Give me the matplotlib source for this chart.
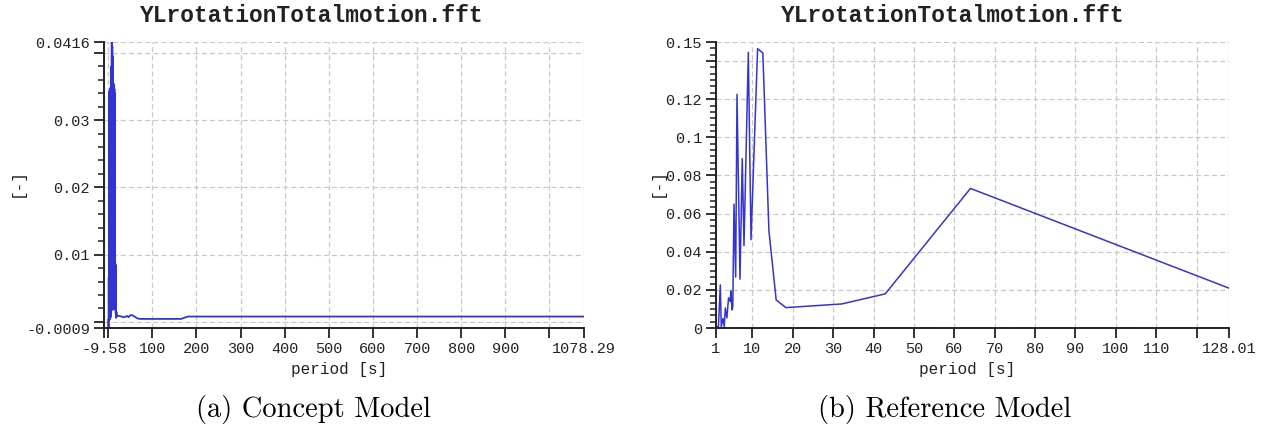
import matplotlib
matplotlib.use("Agg")
import matplotlib.pyplot as plt
from matplotlib.ticker import MultipleLocator

plt.rcParams.update({
    "font.family": ["Liberation Mono", "DejaVu Sans Mono"],
})

INK = "#222222"
LINE = "#3434d2"
GRID = "#c8c8c8"

# ---- (a) concept model: FFT amplitude vs period ----
left_period = [
    0.3, 0.8, 1.2, 1.6, 2.0, 2.3, 2.6, 2.9, 3.2, 3.5, 3.8, 4.1, 4.4, 4.7,
    5.0, 5.3, 5.6, 5.9, 6.2, 6.5, 6.8, 7.1, 7.4, 7.7, 8.0, 8.3, 8.6, 8.9,
    9.2, 9.5, 9.8, 10.1, 10.4, 10.7, 11.0, 11.3, 11.6, 11.9, 12.2, 12.5,
    12.8, 13.1, 13.4, 13.7, 14.0, 14.3, 14.6, 14.9, 15.2, 15.5, 15.8,
    16.2, 16.6, 17.0, 17.5, 18.0, 18.6, 19.5, 21.0, 25.0, 30.0,
    35.0, 40.0, 43.0, 46.0, 50.0, 54.0, 57.0, 62.0, 67.0, 73.0, 80.0,
    90.0, 108.0, 135.0, 154.0, 165.0, 180.0, 216.0, 270.0, 359.0, 539.0,
    1078.29,
]
left_value = [
    0.0003, -0.0009, 0.0066, 0.0002, 0.0120, 0.0004, 0.0343, 0.0008,
    0.0338, 0.0004, 0.0345, 0.0010, 0.0340, 0.0006, 0.0348, 0.0012,
    0.0342, 0.0008, 0.0346, 0.0015, 0.0342, 0.0020, 0.0380, 0.0018,
    0.0416, 0.0025, 0.0405, 0.0020, 0.0410, 0.0030, 0.0395, 0.0022,
    0.0352, 0.0018, 0.0355, 0.0028, 0.0350, 0.0035, 0.0354, 0.0030,
    0.0348, 0.0040, 0.0352, 0.0030, 0.0346, 0.0036, 0.0340, 0.0028,
    0.0335, 0.0030, 0.0088, 0.0018, 0.0085, 0.0013, 0.0035, 0.0006,
    0.0015, 0.0009, 0.0009, 0.0009, 0.0008, 0.0007, 0.0008, 0.0009,
    0.0007, 0.0010, 0.0010, 0.0009, 0.0007, 0.0005, 0.00045, 0.00045,
    0.00045, 0.00045, 0.00045, 0.00045, 0.00045, 0.0008, 0.0008, 0.0008,
    0.0008, 0.0008, 0.0008,
]
left_xticks = [-9.58, 0, 100, 200, 300, 400, 500, 600, 700, 800, 900, 1000, 1078.29]
left_xlabels = ["-9.58", "", "100", "200", "300", "400", "500", "600",
                "700", "800", "900", "", "1078.29"]
left_yticks = [-0.0009, 0.0, 0.01, 0.02, 0.03, 0.04, 0.0416]
left_ylabels = ["-0.0009", "", "0.01", "0.02", "0.03", "", "0.0416"]

# ---- (b) reference model ----
right_period = [1.0, 1.24, 1.6, 2.07, 2.3, 2.73, 3.05, 3.3, 3.7, 4.1, 4.5,
                4.7, 4.96, 5.15, 5.46, 5.87, 6.2, 6.94, 7.5, 7.93, 9.0, 9.67,
                11.3, 12.6, 14.1, 15.9, 18.3, 32.1, 42.9, 64.0, 128.01]
right_value = [0.0, 0.0007, 0.0005, 0.0226, 0.0007, 0.0050, 0.0007, 0.0105,
               0.0053, 0.0158, 0.0139, 0.0195, 0.0095, 0.0110, 0.0650, 0.0267,
               0.1225, 0.0256, 0.0888, 0.0432, 0.1446, 0.0463, 0.1465, 0.1442,
               0.0510, 0.0147, 0.0107, 0.0126, 0.0179, 0.0732, 0.0209]
right_xticks = [1, 10, 20, 30, 40, 50, 60, 70, 80, 90, 100, 110, 120, 128.01]
right_xlabels = ["1", "10", "20", "30", "40", "50", "60", "70", "80", "90",
                 "100", "110", "", "128.01"]
right_yticks = [0, 0.02, 0.04, 0.06, 0.08, 0.1, 0.12, 0.14, 0.15]
right_ylabels = ["0", "0.02", "0.04", "0.06", "0.08", "0.1", "0.12", "", "0.15"]

fig = plt.figure(figsize=(12.68, 4.34), dpi=100)
axL = fig.add_axes([104 / 1268, 1 - 328 / 434, 480 / 1268, 286 / 434])
axR = fig.add_axes([716 / 1268, 1 - 328 / 434, 513 / 1268, 286 / 434])


def style(ax, xlim, ylim, xt, xl, yt, yl, yminor, ylab_x):
    ax.set_xlim(*xlim)
    ax.set_ylim(*ylim)
    ax.set_xticks(xt)
    ax.set_xticklabels(xl)
    ax.set_yticks(yt)
    ax.set_yticklabels(yl)
    ax.yaxis.set_minor_locator(MultipleLocator(yminor))
    for s in ["top", "right"]:
        ax.spines[s].set_visible(False)
    for s in ["left", "bottom"]:
        ax.spines[s].set_linewidth(1.4)
        ax.spines[s].set_color(INK)
    ax.grid(True, which="major", color=GRID, linestyle=(0, (4, 2.5)), lw=0.9)
    ax.set_axisbelow(True)
    ax.tick_params(which="major", direction="out", length=7, width=1.3,
                   labelsize=11, colors=INK, pad=3)
    ax.tick_params(which="minor", direction="out", length=4.5, width=1.1,
                   colors=INK)
    ax.set_xlabel("period [s]", fontsize=11.5, color=INK)
    ax.xaxis.set_label_coords(0.49, -0.12)
    ax.set_ylabel("[-]", fontsize=11.5, color=INK)
    ax.yaxis.set_label_coords(ylab_x, 0.51)


axL.plot(left_period, left_value, color=LINE, lw=1.3)
style(axL, (-9.58, 1078.29), (-0.0009, 0.0416), left_xticks, left_xlabels,
      left_yticks, left_ylabels, 0.002, -0.165)

axR.plot(right_period, right_value, color=LINE, lw=1.1)
style(axR, (1, 128.01), (0, 0.15), right_xticks, right_xlabels,
      right_yticks, right_ylabels, 0.02 / 6, -0.10)

# titles centred on each half of the figure
for xc in (312 / 1268, 953 / 1268):
    fig.text(xc, 1 - 15 / 434, "YLrotationTotalmotion.fft", ha="center",
             va="center", fontsize=16.5, fontweight="bold", color=INK)

# captions
fig.text(313 / 1268, 1 - 410 / 434, "(a) Concept Model", ha="center",
         va="center", fontsize=20.5, family="cmr10", color="black")
fig.text(945 / 1268, 1 - 410 / 434, "(b) Reference Model", ha="center",
         va="center", fontsize=20.5, family="cmr10", color="black")

fig.savefig("out.png", dpi=100, facecolor="white")
